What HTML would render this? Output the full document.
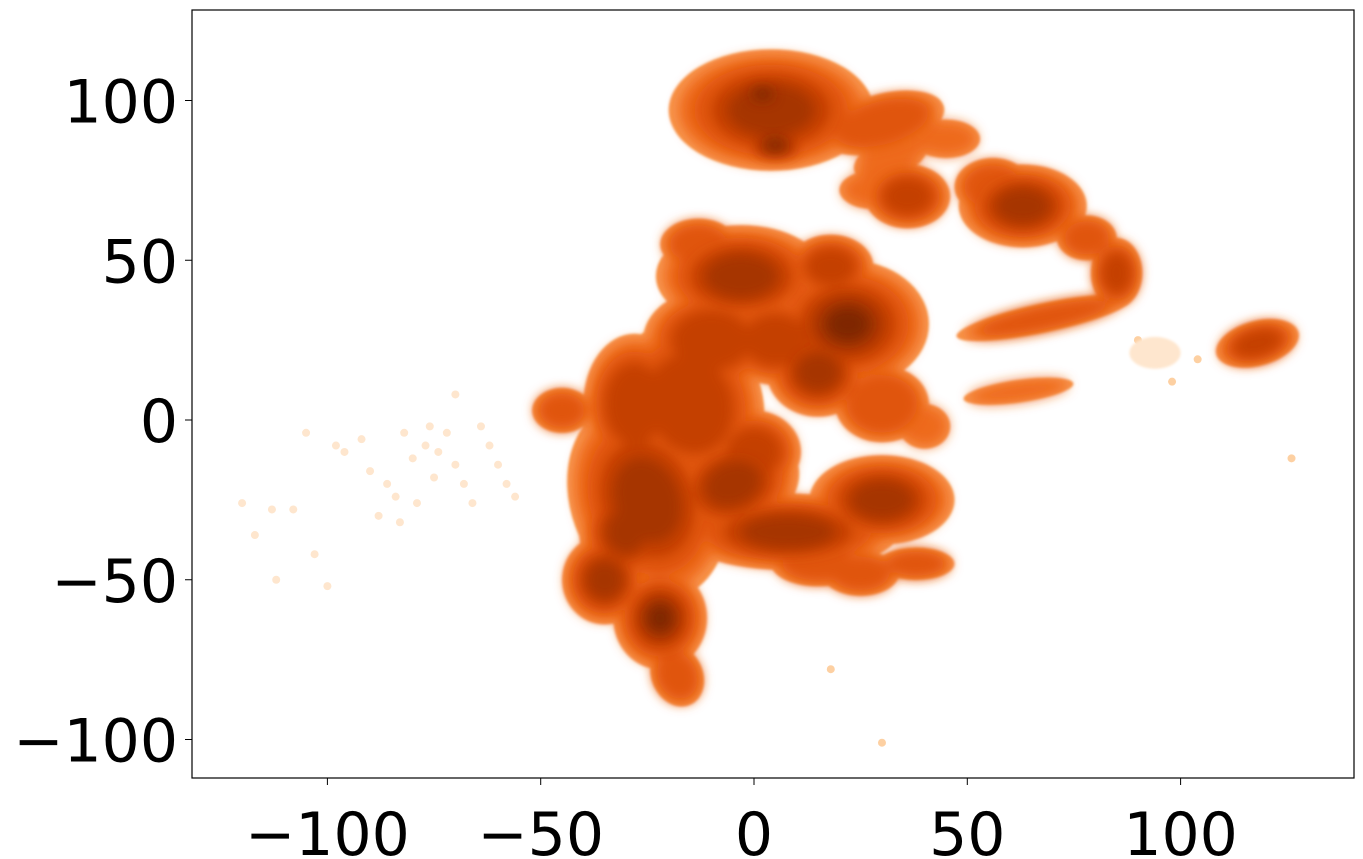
<!DOCTYPE html>
<html><head><meta charset="utf-8">
<style>
html,body{margin:0;padding:0;background:#fff;}
svg{display:block;font-family:"DejaVu Sans","Liberation Sans",sans-serif;}
</style></head>
<body>
<svg id="chart" width="1363" height="859" viewBox="0 0 1363 859" xmlns="http://www.w3.org/2000/svg">
<defs>
<filter id="soft" x="-50%" y="-50%" width="200%" height="200%"><feGaussianBlur stdDeviation="6"/></filter>
<filter id="edge" x="-50%" y="-50%" width="200%" height="200%"><feGaussianBlur stdDeviation="1.2"/></filter>
<clipPath id="plotclip"><rect x="192" y="10" width="1162" height="768"/></clipPath>
</defs>
<g id="marks" clip-path="url(#plotclip)"></g>
<rect x="192" y="10" width="1162" height="768" fill="none" stroke="#000" stroke-width="1.2"/>
<g id="axes"></g>
</svg>
<script>
// cluster data (data units): center x, center y, radius x, radius y, rotation, density level
const clusterX   = [4, 2, 5, 30, 45, 36, 28, 63, 56, 85, 78, 68, 62, 118, -45, -3, 22, 15, 30, 40, -28, -15, -25, -35, -22, -18, 8, 30, 38, 25, -10, 5, -5, -30, 15, 0, 32, -13, 18];
const clusterY   = [97, 102, 86, 93, 88, 70, 72, 67, 73, 46, 57, 32, 9, 24, 3, 45, 30, 15, 5, -2, 5, 5, -25, -50, -62, -80, -35, -25, -45, -48, 25, 25, -20, -35, -45, -10, 82, 55, 48];
const clusterRX  = [24, 9, 9, 15, 8, 10, 8, 15, 9, 6, 7, 21, 13, 10, 7, 20, 19, 12, 11, 6, 12, 17, 18, 10, 11, 6, 26, 17, 9, 9, 16, 13, 16, 11, 11, 11, 9, 9, 10];
const clusterRY  = [19, 7, 6, 9, 6, 10, 6, 13, 9, 11, 7, 4.5, 3.5, 7, 7, 16, 20, 14, 12, 7, 22, 27, 32, 14, 16, 10, 12, 14, 5, 7, 16, 14, 16, 16, 7, 13, 6, 8, 10];
const clusterRot = [0, 0, 0, -15, 0, 0, 0, 0, 0, 0, 0, -12, -8, -15, 0, 0, 0, 0, 0, 0, 0, -20, -20, 0, 0, -25, 0, 0, 0, 0, 0, 0, -20, 0, 0, 0, -20, 0, 0];
const clusterLvl = [4, 5, 5, 2, 1, 3, 1, 4, 2, 3, 2, 2, 1, 3, 2, 4, 5, 4, 2, 1, 3, 3, 4, 4, 5, 2, 4, 4, 2, 2, 3, 3, 4, 4, 2, 3, 1, 2, 3];
// sparse faint points
const faintX = [-120,-117,-112,-108,-105,-100,-98,-96,-92,-88,-86,-84,-82,-80,-79,-77,-76,-75,-74,-72,-70,-68,-66,-64,-62,-60,-58,-56,-113,-103,-90,-83,-70,92,95,98,90,104,30,18,126];
const faintY = [-26,-36,-50,-28,-4,-52,-8,-10,-6,-30,-20,-24,-4,-12,-26,-8,-2,-18,-10,-4,-14,-20,-26,-2,-8,-14,-20,-24,-28,-42,-16,-32,8,22,18,12,25,19,-101,-78,-12];
const faintFill = ["#fee6ce","#fee6ce","#fee6ce","#fee6ce","#fee6ce","#fee6ce","#fee6ce","#fee6ce","#fee6ce","#fee6ce","#fee6ce","#fee6ce","#fee6ce","#fee6ce","#fee6ce","#fee6ce","#fee6ce","#fee6ce","#fee6ce","#fee6ce","#fee6ce","#fee6ce","#fee6ce","#fee6ce","#fee6ce","#fee6ce","#fee6ce","#fee6ce","#fee6ce","#fee6ce","#fee6ce","#fee6ce","#fee6ce","#fdd0a2","#fdd0a2","#fdd0a2","#fdd0a2","#fdd0a2","#fdd0a2","#fdd0a2","#fdd0a2"];
const xTicks = [-100, -50, 0, 50, 100];
const yTicks = [100, 50, 0, -50, -100];
const xTickLabels = ["\u2212100", "\u221250", "0", "50", "100"];
const yTickLabels = ["100", "50", "0", "\u221250", "\u2212100"];

const NS = "http://www.w3.org/2000/svg";
const X0 = 754, XS = 213.3 / 50;
const Y0 = 420, YS = 159.75 / 50;
function xs(v){ return X0 + v * XS; }
function ys(v){ return Y0 - v * YS; }

const layerColors = ["#f8944e", "#ee6a1a", "#e05508", "#c44103", "#a63603", "#7f2704"];
const layerScale  = [1.0, 0.9, 0.75, 0.58, 0.42, 0.27];

const marks = document.getElementById("marks");
const gFaint = document.createElementNS(NS, "g");


marks.appendChild(gFaint);
for (let i = 0; i < faintX.length; i++) {
  const c = document.createElementNS(NS, "circle");
  c.setAttribute("cx", xs(faintX[i]));
  c.setAttribute("cy", ys(faintY[i]));
  c.setAttribute("r", 4);
  c.setAttribute("fill", faintFill[i]);
  
  
  gFaint.appendChild(c);
}
const fc = document.createElementNS(NS, "ellipse");
fc.setAttribute("cx", xs(94)); fc.setAttribute("cy", ys(21));
fc.setAttribute("rx", 6 * XS); fc.setAttribute("ry", 5 * YS);
fc.setAttribute("fill", "#fee6ce");
fc.setAttribute("filter", "url(#edge)");


gFaint.appendChild(fc);

for (let layer = 0; layer < layerColors.length; layer++) {
  const g = document.createElementNS(NS, "g");
  
  
  g.setAttribute("filter", layer === 0 ? "url(#edge)" : "url(#soft)");
  marks.appendChild(g);
  for (let i = 0; i < clusterX.length; i++) {
    if (layer > clusterLvl[i]) continue;
    const e = document.createElementNS(NS, "ellipse");
    const cx = xs(clusterX[i]), cy = ys(clusterY[i]);
    e.setAttribute("cx", cx);
    e.setAttribute("cy", cy);
    e.setAttribute("rx", clusterRX[i] * XS * layerScale[layer]);
    e.setAttribute("ry", clusterRY[i] * YS * layerScale[layer]);
    e.setAttribute("transform", "rotate(" + clusterRot[i] + " " + cx + " " + cy + ")");
    e.setAttribute("fill", layerColors[layer]);
    
    
    g.appendChild(e);
  }
}

const axes = document.getElementById("axes");
for (let i = 0; i < xTicks.length; i++) {
  const x = xs(xTicks[i]);
  const t = document.createElementNS(NS, "line");
  t.setAttribute("x1", x); t.setAttribute("x2", x);
  t.setAttribute("y1", 778); t.setAttribute("y2", 785);
  t.setAttribute("stroke", "#000");
  
  
  axes.appendChild(t);
  const l = document.createElementNS(NS, "text");
  l.setAttribute("x", x); l.setAttribute("y", 855);
  l.setAttribute("text-anchor", "middle");
  l.setAttribute("font-size", "60");
  l.textContent = xTickLabels[i];
  
  
  axes.appendChild(l);
}
for (let i = 0; i < yTicks.length; i++) {
  const y = ys(yTicks[i]);
  const t = document.createElementNS(NS, "line");
  t.setAttribute("x1", 185); t.setAttribute("x2", 192);
  t.setAttribute("y1", y); t.setAttribute("y2", y);
  t.setAttribute("stroke", "#000");
  
  
  axes.appendChild(t);
  const l = document.createElementNS(NS, "text");
  l.setAttribute("x", 178); l.setAttribute("y", y + 22);
  l.setAttribute("text-anchor", "end");
  l.setAttribute("font-size", "60");
  l.textContent = yTickLabels[i];
  
  
  axes.appendChild(l);
}
</script>
</body></html>
